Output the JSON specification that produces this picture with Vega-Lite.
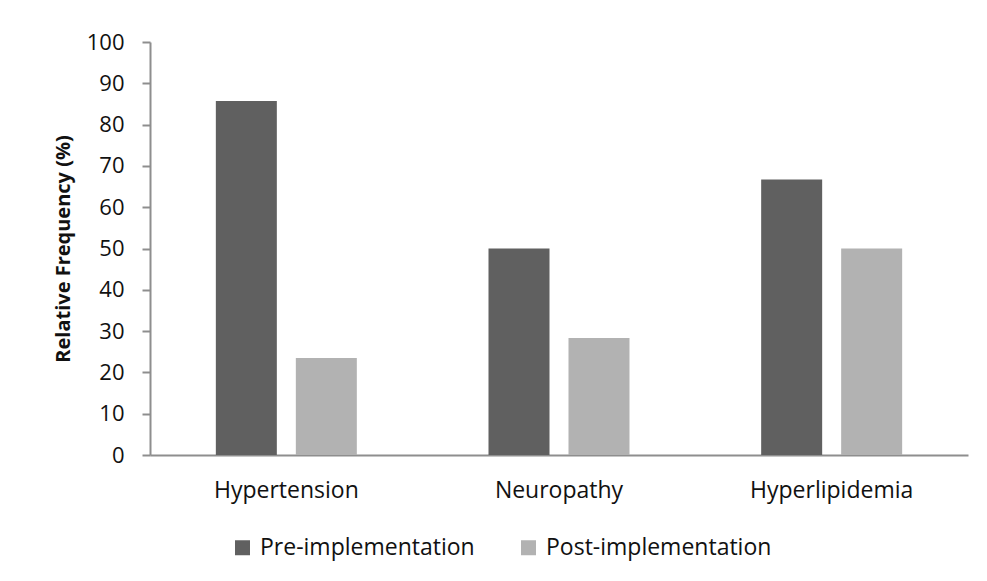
{
  "$schema": "https://vega.github.io/schema/vega-lite/v6.json",
  "autosize": {"type": "none"},
  "padding": {"left": 150, "top": 42, "right": 19, "bottom": 126},
  "width": 818,
  "height": 413,
  "background": "white",
  "data": {
    "values": [
      {"condition": "Hypertension", "period": "Pre-implementation", "value": 85.7},
      {"condition": "Hypertension", "period": "Post-implementation", "value": 23.5},
      {"condition": "Neuropathy", "period": "Pre-implementation", "value": 50},
      {"condition": "Neuropathy", "period": "Post-implementation", "value": 28.3},
      {"condition": "Hyperlipidemia", "period": "Pre-implementation", "value": 66.7},
      {"condition": "Hyperlipidemia", "period": "Post-implementation", "value": 50}
    ]
  },
  "mark": {"type": "bar"},
  "encoding": {
    "x": {
      "field": "condition",
      "type": "nominal",
      "sort": ["Hypertension", "Neuropathy", "Hyperlipidemia"],
      "scale": {"paddingInner": 0, "paddingOuter": 0},
      "axis": {
        "title": null,
        "labelAngle": 0,
        "ticks": false,
        "labelPadding": 24,
        "labelFont": "Open Sans",
        "labelFontSize": 23,
        "labelColor": "#111111",
        "labelLimit": 0,
        "domainColor": "#8e8e8e",
        "domainWidth": 2
      }
    },
    "xOffset": {
      "field": "period",
      "type": "nominal",
      "sort": ["Pre-implementation", "Post-implementation"],
      "scale": {"paddingInner": 0.2375, "paddingOuter": 0.823}
    },
    "y": {
      "field": "value",
      "type": "quantitative",
      "scale": {"domain": [0, 100], "nice": false},
      "axis": {
        "title": "Relative Frequency (%)",
        "titleFont": "Open Sans",
        "titleFontSize": 20,
        "titleFontWeight": "bold",
        "titleColor": "#111111",
        "titlePadding": 13,
        "values": [0, 10, 20, 30, 40, 50, 60, 70, 80, 90, 100],
        "grid": false,
        "tickSize": 8,
        "tickWidth": 2,
        "tickColor": "#8e8e8e",
        "domainColor": "#8e8e8e",
        "domainWidth": 2,
        "labelPadding": 18,
        "labelFont": "Open Sans",
        "labelFontSize": 22,
        "labelColor": "#111111"
      }
    },
    "color": {
      "field": "period",
      "type": "nominal",
      "sort": ["Pre-implementation", "Post-implementation"],
      "scale": {"domain": ["Pre-implementation", "Post-implementation"], "range": ["#606060", "#b2b2b2"]},
      "legend": {
        "title": null,
        "orient": "none",
        "direction": "horizontal",
        "legendX": 81,
        "legendY": 494,
        "symbolType": "square",
        "symbolSize": 225,
        "symbolStrokeWidth": 0,
        "labelFont": "Open Sans",
        "labelFontSize": 23,
        "labelColor": "#111111",
        "labelLimit": 0,
        "labelOffset": 6,
        "columnPadding": 42
      }
    }
  },
  "config": {"view": {"stroke": null}}
}
